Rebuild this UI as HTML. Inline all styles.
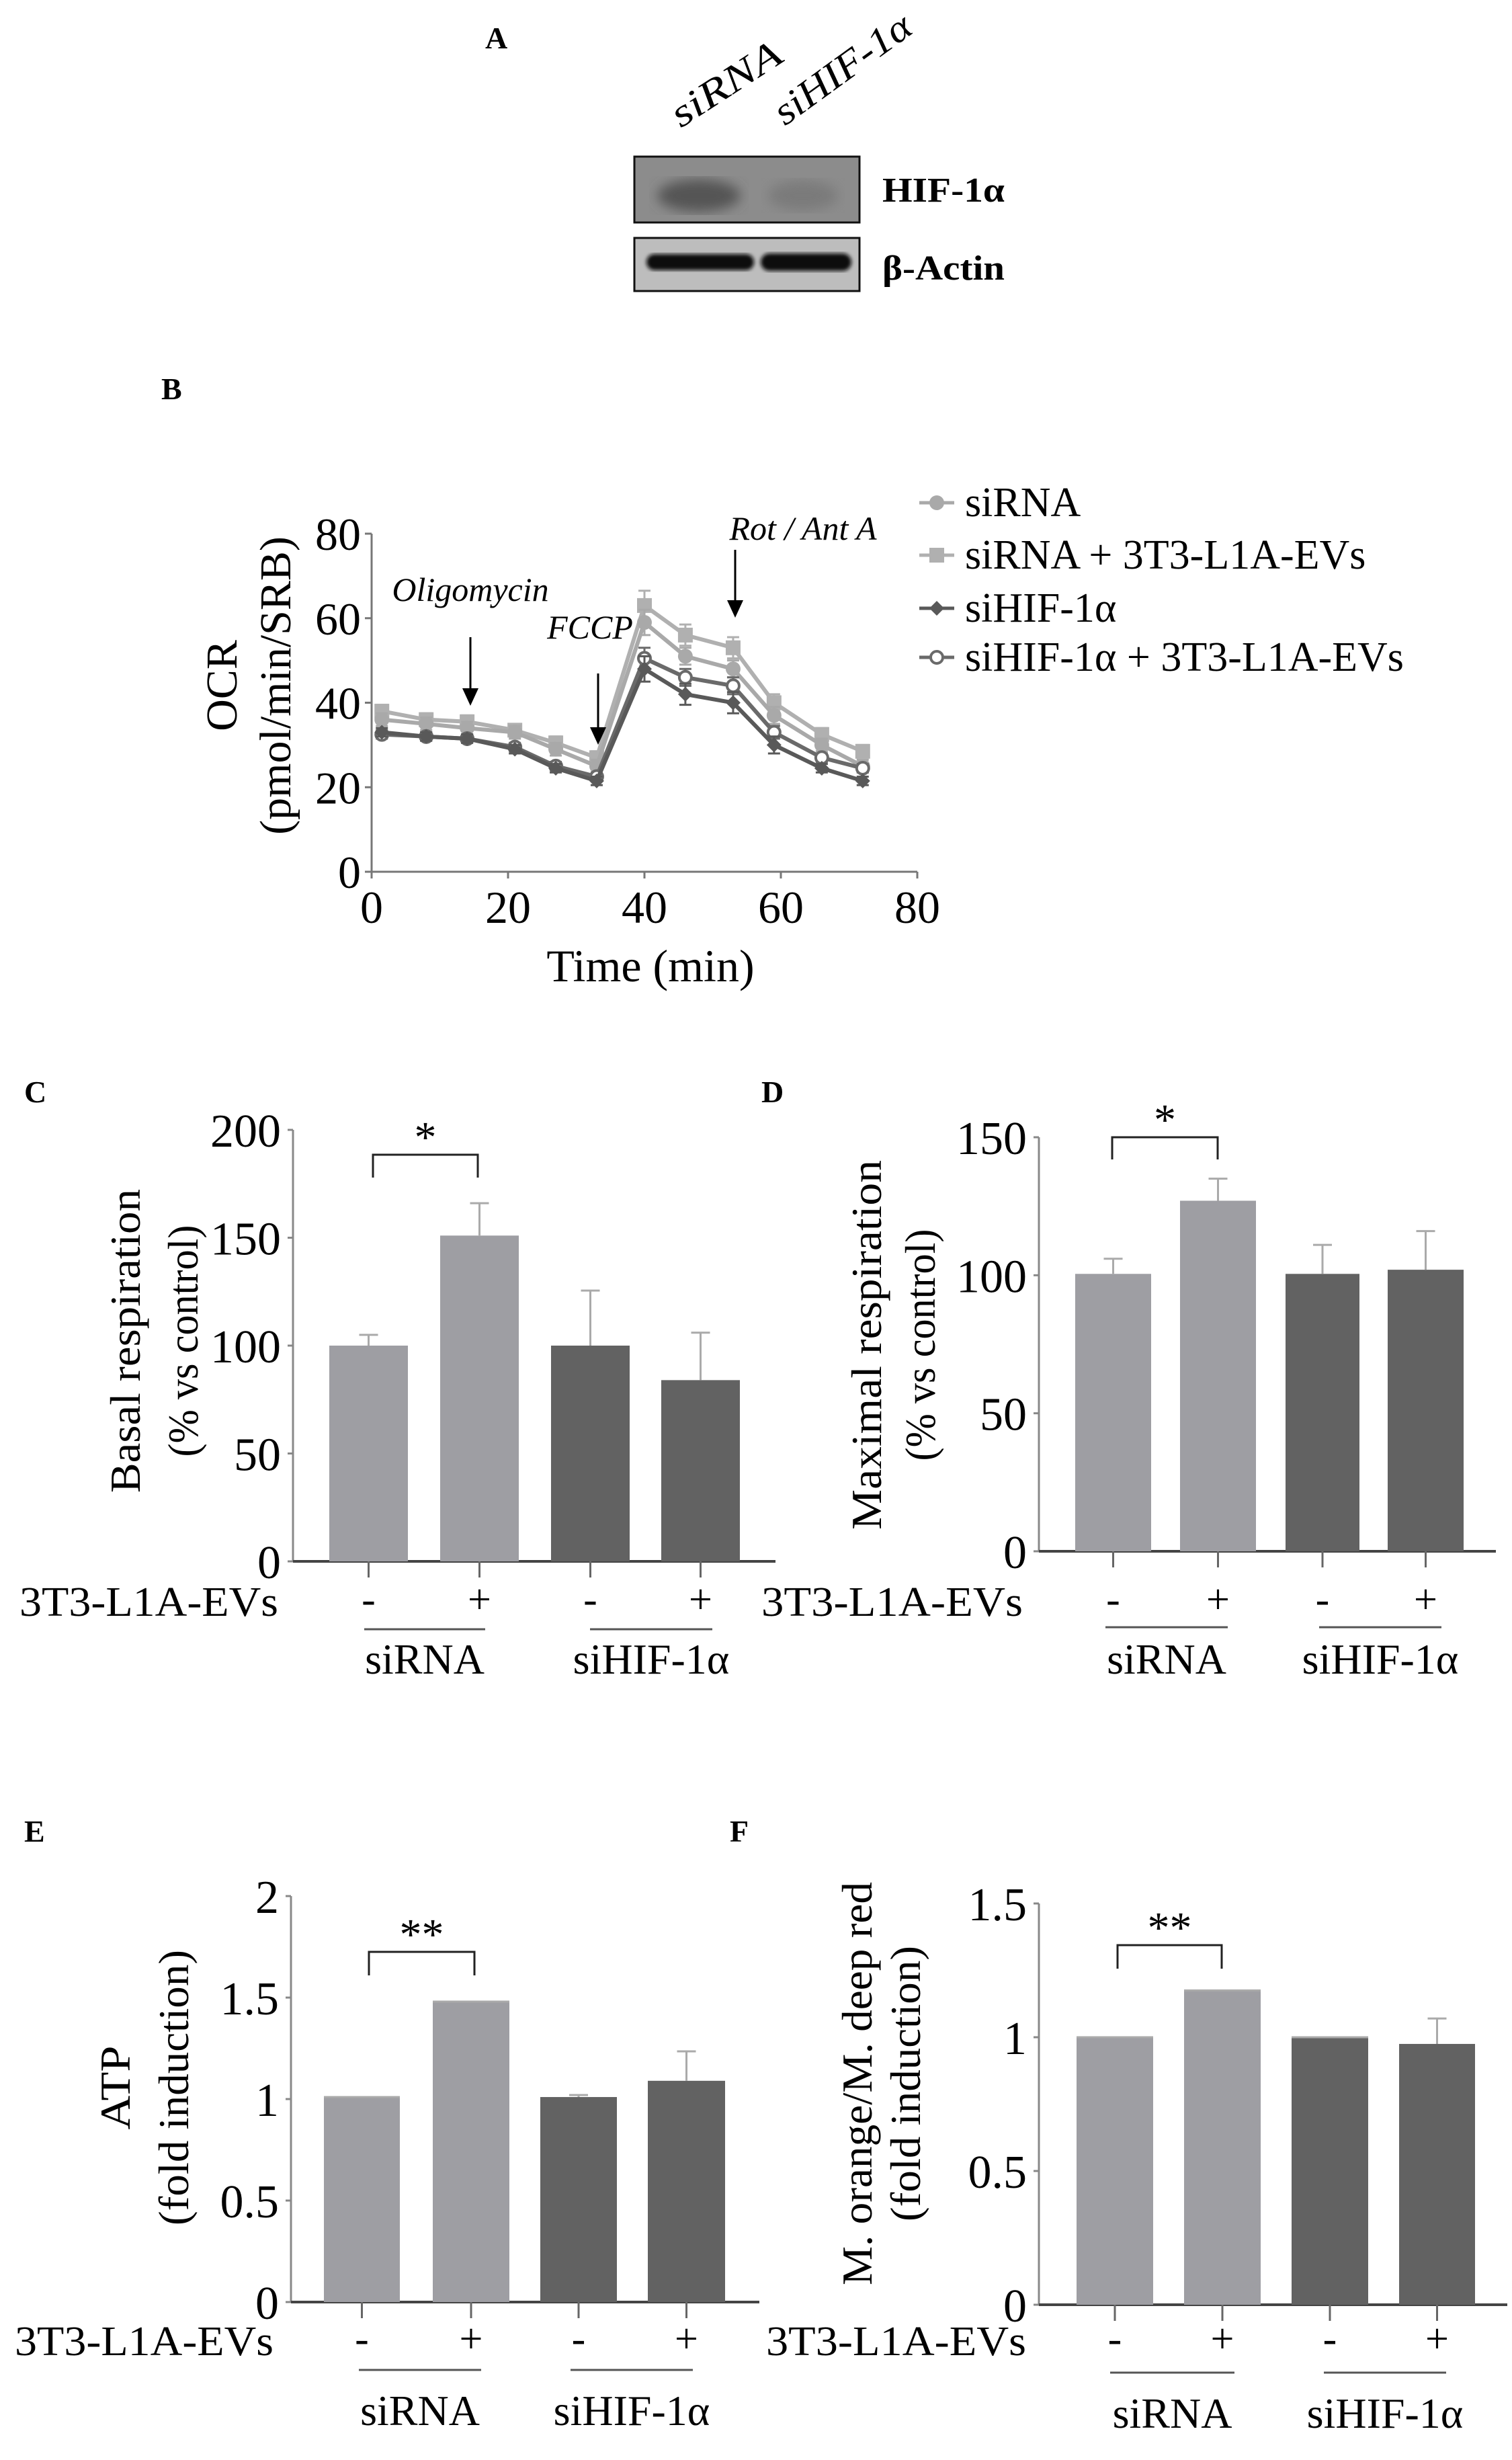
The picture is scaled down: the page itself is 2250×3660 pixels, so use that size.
<!DOCTYPE html>
<html><head><meta charset="utf-8"><style>
html,body{margin:0;padding:0;background:#fff;}
svg{display:block;}
text{font-family:"Liberation Serif","Times New Roman",serif;}
</style></head>
<body>
<svg id="fig" width="2250" height="3660" viewBox="0 0 2250 3660" xmlns="http://www.w3.org/2000/svg">
<defs>
<filter id="blur6"><feGaussianBlur stdDeviation="9"/></filter>
<filter id="blur3"><feGaussianBlur stdDeviation="3"/></filter>
</defs>
<!-- Panel A -->
<text x="722" y="72" font-size="46" font-weight="bold">A</text>
<text x="1013" y="191" font-size="58" font-style="italic" transform="rotate(-33 1013 191)" textLength="185" lengthAdjust="spacingAndGlyphs">siRNA</text>
<text x="1168" y="188" font-size="58" font-style="italic" transform="rotate(-36 1168 188)" textLength="239" lengthAdjust="spacingAndGlyphs">siHIF-1α</text>
<g>
<rect x="944" y="233" width="335" height="98" fill="#8c8c8c" stroke="#111" stroke-width="3"/>
<ellipse cx="1040" cy="291" rx="62" ry="24" fill="#555" filter="url(#blur6)"/>
<ellipse cx="1195" cy="291" rx="52" ry="22" fill="#7a7a7a" filter="url(#blur6)"/>
</g>
<g>
<rect x="944" y="354" width="335" height="79" fill="#bdbdbd" stroke="#111" stroke-width="3"/>
<rect x="962" y="378" width="160" height="24" rx="12" fill="#111" filter="url(#blur3)"/>
<rect x="1132" y="377" width="135" height="26" rx="13" fill="#111" filter="url(#blur3)"/>
</g>
<text x="1313" y="300" font-size="52" font-weight="bold" textLength="182" lengthAdjust="spacingAndGlyphs">HIF-1α</text>
<text x="1313" y="416" font-size="52" font-weight="bold" textLength="182" lengthAdjust="spacingAndGlyphs">β-Actin</text>
<!-- Panel B -->
<text x="240" y="594" font-size="46" font-weight="bold">B</text>
<g id="chartB"></g>
<text x="36" y="1640" font-size="46" font-weight="bold">C</text>
<text x="1133" y="1640" font-size="46" font-weight="bold">D</text>
<text x="36" y="2740" font-size="46" font-weight="bold">E</text>
<text x="1086" y="2740" font-size="46" font-weight="bold">F</text>
<g id="chartC"></g>
<g id="chartD"></g>
<g id="chartE"></g>
<g id="chartF"></g>
</svg>
<script>
// ---- Panel B data ----
const timesB = [1.5, 8, 14, 21, 27, 33, 40, 46, 53, 59, 66, 72];
const seriesNamesB = ["siRNA", "siRNA + 3T3-L1A-EVs", "siHIF-1α", "siHIF-1α + 3T3-L1A-EVs"];
const siRNAvals = [36, 35, 34, 33, 29, 25, 59, 51, 48, 37, 30, 25];
const siRNAEVvals = [38, 36, 35.5, 33.5, 30.5, 27, 63, 56, 53, 40, 32.5, 28.5];
const siHIFvals = [33, 32, 31.5, 29, 24.5, 21.5, 48, 42, 40, 30, 24.5, 21.5];
const siHIFEVvals = [32.5, 32, 31.5, 29.5, 25, 22.5, 50.5, 46, 44, 33, 27, 24.5];
const siRNAerr = [1.5, 1.5, 1.5, 1.5, 1.5, 1.5, 3, 2, 2, 2, 1.5, 1.5];
const siRNAEVerr = [1.5, 1.5, 1.5, 1.5, 1.5, 1.5, 3.5, 2.5, 2.5, 2, 1.5, 1.5];
const siHIFerr = [1, 1, 1, 1, 1, 1, 3, 2.5, 2.5, 2, 1, 1];
const siHIFEVerr = [1, 1, 1, 1, 1, 1, 2.5, 2, 2, 1.5, 1, 1];
const xTicksB = [0, 20, 40, 60, 80];
const yTicksB = [0, 20, 40, 60, 80];
// ---- Bar charts data ----
const barCats = ["-", "+", "-", "+"];
const groupNames = ["siRNA", "siHIF-1α"];
const basalVals = [100, 151, 100, 84];
const basalErr = [5, 15, 25.5, 22];
const basalTicks = [0, 50, 100, 150, 200];
const maxVals = [100.5, 127, 100.5, 102];
const maxErr = [5.5, 8, 10.5, 14];
const maxTicks = [0, 50, 100, 150];
const atpVals = [1.01, 1.48, 1.01, 1.09];
const atpErr = [0, 0, 0.01, 0.145];
const atpTicks = [0, 0.5, 1, 1.5, 2];
const atpTickLabels = ["0", "0.5", "1", "1.5", "2"];
const mitoVals = [1.0, 1.175, 1.0, 0.975];
const mitoErr = [0, 0, 0, 0.095];
const mitoTicks = [0, 0.5, 1, 1.5];
const mitoTickLabels = ["0", "0.5", "1", "1.5"];

const NS = "http://www.w3.org/2000/svg";
function mk(parent, tag, attrs, txt) {
  const e = document.createElementNS(NS, tag);
  for (const k in attrs) e.setAttribute(k, attrs[k]);
  if (txt !== undefined) e.textContent = txt;
  parent.appendChild(e);
  return e;
}

// ---- Panel B ----
(function () {
  const g = document.getElementById("chartB");
  const x0 = 553, x1 = 1365, y0 = 1297, y1 = 794;
  const sx = v => x0 + (v / 80) * (x1 - x0);
  const sy = v => y0 - (v / 80) * (y0 - y1);
  let a = mk(g, "line", {x1: x0, y1: y0, x2: x0, y2: y1, stroke: "#777", "stroke-width": 3});
  
  
  a = mk(g, "line", {x1: x0, y1: y0, x2: x1, y2: y0, stroke: "#777", "stroke-width": 3});
  
  
  yTicksB.forEach(v => {
    mk(g, "line", {x1: x0 - 10, y1: sy(v), x2: x0, y2: sy(v), stroke: "#777", "stroke-width": 3});
    const t = mk(g, "text", {x: x0 - 16, y: sy(v) + 24, "font-size": 68, "text-anchor": "end"}, String(v));
    
    
  });
  xTicksB.forEach(v => {
    mk(g, "line", {x1: sx(v), y1: y0, x2: sx(v), y2: y0 + 10, stroke: "#777", "stroke-width": 3});
    const t = mk(g, "text", {x: sx(v), y: y0 + 76, "font-size": 68, "text-anchor": "middle"}, String(v));
    
    
  });
  let t = mk(g, "text", {x: 968, y: 1460, "font-size": 68, "text-anchor": "middle"}, "Time (min)");
  
  
  t = mk(g, "text", {x: 0, y: 0, "font-size": 66, "text-anchor": "middle", transform: "translate(352 1020) rotate(-90)"}, "OCR");
  
  
  t = mk(g, "text", {x: 0, y: 0, "font-size": 66, "text-anchor": "middle", transform: "translate(432 1020) rotate(-90)"}, "(pmol/min/SRB)");
  
  

  const colors = ["#a9a9a9", "#b0b0b0", "#595959", "#6a6a6a"];
  const shapes = ["circle", "square", "diamond", "open"];
  const vals = [siRNAvals, siRNAEVvals, siHIFvals, siHIFEVvals];
  const errs = [siRNAerr, siRNAEVerr, siHIFerr, siHIFEVerr];
  function marker(p, shape, cx, cy, col, r) {
    if (shape === "circle") return mk(p, "circle", {cx, cy, r, fill: col});
    if (shape === "square") return mk(p, "rect", {x: cx - r, y: cy - r, width: 2 * r, height: 2 * r, fill: col});
    if (shape === "diamond") return mk(p, "polygon", {points: `${cx},${cy - r} ${cx + r},${cy} ${cx},${cy + r} ${cx - r},${cy}`, fill: col});
    return mk(p, "circle", {cx, cy, r: r - 2, fill: "#fff", stroke: col, "stroke-width": 4});
  }
  [1, 0, 3, 2].forEach(si => {
    const sg = mk(g, "g", {});
    
    
    const pts = timesB.map((tt, i) => sx(tt) + "," + sy(vals[si][i])).join(" ");
    mk(sg, "polyline", {points: pts, fill: "none", stroke: colors[si], "stroke-width": 6});
    timesB.forEach((tt, i) => {
      const cx = sx(tt), v = vals[si][i], e = errs[si][i];
      mk(sg, "line", {x1: cx, y1: sy(v + e), x2: cx, y2: sy(v - e), stroke: colors[si], "stroke-width": 3});
      mk(sg, "line", {x1: cx - 9, y1: sy(v + e), x2: cx + 9, y2: sy(v + e), stroke: colors[si], "stroke-width": 3});
      mk(sg, "line", {x1: cx - 9, y1: sy(v - e), x2: cx + 9, y2: sy(v - e), stroke: colors[si], "stroke-width": 3});
      const m = marker(sg, shapes[si], cx, sy(v), colors[si], 11);
      
      
    });
  });
  const ly = [748, 826, 905, 978];
  seriesNamesB.forEach((n, i) => {
    const lg = mk(g, "g", {});
    
    
    mk(lg, "line", {x1: 1368, y1: ly[i], x2: 1420, y2: ly[i], stroke: colors[i], "stroke-width": 5});
    marker(lg, shapes[i], 1394, ly[i], colors[i], 11);
    mk(lg, "text", {x: 1436, y: ly[i] + 20, "font-size": 62}, n);
  });
  const ann = [
    {txt: "Oligomycin", tx: 700, ty: 878, ax: 700, a0: 948, a1: 1050},
    {txt: "FCCP", tx: 878, ty: 934, ax: 890, a0: 1002, a1: 1108},
    {txt: "Rot / Ant A", tx: 1195, ty: 787, ax: 1094, a0: 818, a1: 919}
  ];
  ann.forEach(o => {
    const ag = mk(g, "g", {});
    
    
    mk(ag, "text", {x: o.tx, y: o.ty + 16, "font-size": 50, "font-style": "italic", "text-anchor": "middle"}, o.txt);
    mk(ag, "line", {x1: o.ax, y1: o.a0, x2: o.ax, y2: o.a1 - 20, stroke: "#000", "stroke-width": 3});
    mk(ag, "polygon", {points: `${o.ax - 12},${o.a1 - 26} ${o.ax + 12},${o.a1 - 26} ${o.ax},${o.a1}`, fill: "#000"});
  });
})();

// ---- Bar charts ----
function barChart(id, cfg) {
  const g = document.getElementById(id);
  const {ax, y0, yTop, vmax, xr, bars, vals, errs, ticks, tickLabels, bracket, stars, lines, catY, groupY, evX, ytitle, ytitleX, ytitle2, ytitle2X, ytitleY, ytitleLen, ytitle2Len} = cfg;
  const sy = v => y0 - (v / vmax) * (y0 - yTop);
  let a = mk(g, "line", {x1: ax, y1: y0, x2: ax, y2: yTop, stroke: "#888", "stroke-width": 3});
  
  
  a = mk(g, "line", {x1: ax, y1: y0, x2: xr, y2: y0, stroke: "#444", "stroke-width": 4});
  
  
  ticks.forEach((v, i) => {
    mk(g, "line", {x1: ax - 8, y1: sy(v), x2: ax, y2: sy(v), stroke: "#888", "stroke-width": 3});
    const t = mk(g, "text", {x: ax - 18, y: sy(v) + 25, "font-size": 70, "text-anchor": "end"}, tickLabels ? tickLabels[i] : String(v));
    
    
  });
  const cols = ["#9e9ea3", "#9e9ea3", "#626262", "#626262"];
  vals.forEach((v, i) => {
    const [bx0, bx1] = bars[i];
    const cx = (bx0 + bx1) / 2;
    const r = mk(g, "rect", {x: bx0, y: sy(v), width: bx1 - bx0, height: y0 - sy(v), fill: cols[i]});
    
    
    if (errs[i] > 0) {
      const e = mk(g, "path", {d: `M${cx},${sy(v)} V${sy(v + errs[i])} M${cx - 14},${sy(v + errs[i])} H${cx + 14}`, stroke: "#aaa", "stroke-width": 3, fill: "none"});
      
      
    } else {
      mk(g, "line", {x1: bx0, y1: sy(v), x2: bx1, y2: sy(v), stroke: "#aaa", "stroke-width": 3});
    }
    mk(g, "line", {x1: cx, y1: y0, x2: cx, y2: y0 + 24, stroke: "#666", "stroke-width": 3});
    const t = mk(g, "text", {x: cx, y: catY, "font-size": 62, "text-anchor": "middle"}, barCats[i]);
    
    
  });
  const bg = mk(g, "g", {});
  
  
  mk(bg, "path", {d: `M${bracket[0]},${bracket[3]} V${bracket[2]} H${bracket[1]} V${bracket[3]}`, stroke: "#222", "stroke-width": 3, fill: "none"});
  mk(bg, "text", {x: (bracket[0] + bracket[1]) / 2, y: bracket[2] - 4, "font-size": 66, "text-anchor": "middle"}, stars);
  lines.forEach((l, i) => {
    const lg = mk(g, "g", {});
    
    
    mk(lg, "line", {x1: l[0], y1: l[2], x2: l[1], y2: l[2], stroke: "#555", "stroke-width": 3});
    mk(lg, "text", {x: (l[0] + l[1]) / 2, y: groupY, "font-size": 64, "text-anchor": "middle"}, groupNames[i]);
  });
  let t = mk(g, "text", {x: evX[0], y: catY + 4, "font-size": 62, textLength: evX[1] - evX[0], lengthAdjust: "spacingAndGlyphs"}, "3T3-L1A-EVs");
  
  
  t = mk(g, "text", {x: 0, y: 0, "font-size": 64, "text-anchor": "middle", transform: `translate(${ytitleX} ${ytitleY}) rotate(-90)`, textLength: ytitleLen, lengthAdjust: "spacingAndGlyphs"}, ytitle);
  
  
  t = mk(g, "text", {x: 0, y: 0, "font-size": 64, "text-anchor": "middle", transform: `translate(${ytitle2X} ${ytitleY}) rotate(-90)`, textLength: ytitle2Len, lengthAdjust: "spacingAndGlyphs"}, ytitle2);
  
  
}

barChart("chartC", {ax: 436, y0: 2323, yTop: 1681, vmax: 200, xr: 1154,
  bars: [[490, 607], [655, 772], [820, 937], [984, 1101]], vals: basalVals, errs: basalErr, ticks: basalTicks,
  bracket: [555, 711, 1718, 1752], stars: "*", lines: [[542, 722, 2424], [878, 1060, 2424]],
  catY: 2400, groupY: 2490, evX: [29, 414], ytitle: "Basal respiration", ytitleX: 208, ytitle2: "(% vs control)", ytitle2X: 294, ytitleY: 1995, ytitleLen: 452, ytitle2Len: 345});
barChart("chartD", {ax: 1546, y0: 2308, yTop: 1692, vmax: 150, xr: 2226,
  bars: [[1600, 1713], [1756, 1869], [1913, 2023], [2065, 2178]], vals: maxVals, errs: maxErr, ticks: maxTicks,
  bracket: [1655, 1812, 1692, 1725], stars: "*", lines: [[1645, 1827, 2421], [1963, 2145, 2421]],
  catY: 2400, groupY: 2490, evX: [1133, 1522], ytitle: "Maximal respiration", ytitleX: 1311, ytitle2: "(% vs control)", ytitle2X: 1391, ytitleY: 2001, ytitleLen: 550, ytitle2Len: 345});
barChart("chartE", {ax: 433, y0: 3425, yTop: 2821, vmax: 2, xr: 1130,
  bars: [[482, 595], [644, 758], [804, 918], [964, 1079]], vals: atpVals, errs: atpErr, ticks: atpTicks, tickLabels: atpTickLabels,
  bracket: [549, 706, 2904, 2939], stars: "**", lines: [[534, 716, 3526], [849, 1031, 3526]],
  catY: 3500, groupY: 3608, evX: [22, 407], ytitle: "ATP", ytitleX: 193, ytitle2: "(fold induction)", ytitle2X: 280, ytitleY: 3106, ytitleLen: 125, ytitle2Len: 410});
barChart("chartF", {ax: 1546, y0: 3429, yTop: 2832, vmax: 1.5, xr: 2243,
  bars: [[1602, 1716], [1762, 1876], [1922, 2036], [2082, 2195]], vals: mitoVals, errs: mitoErr, ticks: mitoTicks, tickLabels: mitoTickLabels,
  bracket: [1663, 1818, 2894, 2929], stars: "**", lines: [[1652, 1837, 3530], [1970, 2152, 3530]],
  catY: 3500, groupY: 3612, evX: [1140, 1527], ytitle: "M. orange/M. deep red", ytitleX: 1297, ytitle2: "(fold induction)", ytitle2X: 1369, ytitleY: 3100, ytitleLen: 600, ytitle2Len: 410});
</script>
</body></html>
